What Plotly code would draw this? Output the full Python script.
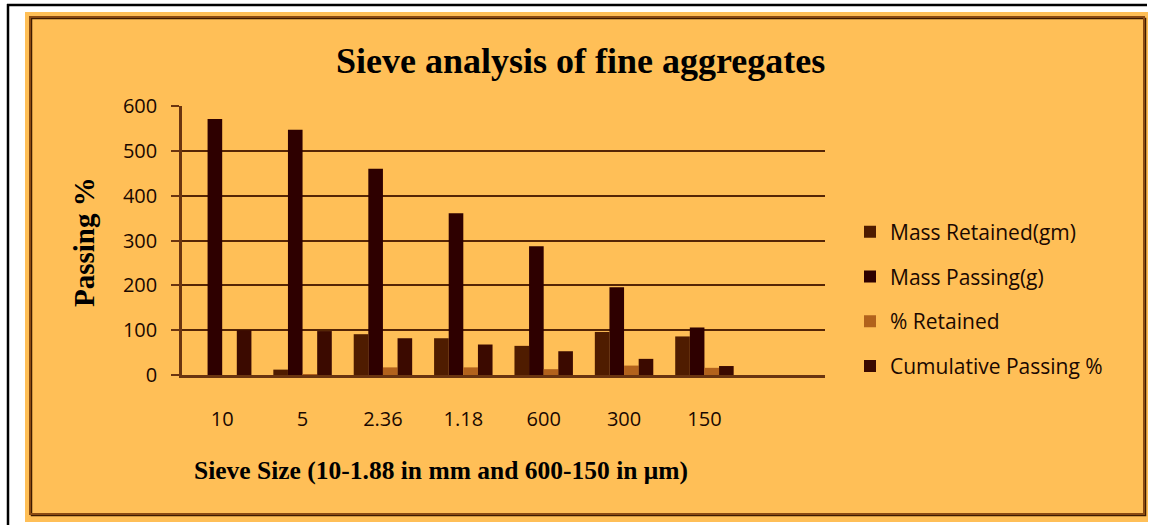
import plotly.graph_objects as go

# Sieve sizes (mm for the first four, micrometres for the rest)
sieve_sizes = ["10", "5", "2.36", "1.18", "600", "300", "150"]

mass_retained = [0, 12, 91, 82, 65, 96, 86]
mass_passing = [571, 547, 460, 361, 287, 196, 106]
pct_retained = [0, 2, 17, 17, 13, 21, 16]
cumulative_passing = [100, 98, 82, 68, 53, 36, 20]

series_names = ["Mass Retained(gm)", "Mass Passing(g)", "% Retained", "Cumulative Passing %"]
series_values = [mass_retained, mass_passing, pct_retained, cumulative_passing]
series_colors = ["#4f1c00", "#2e0000", "#b2621c", "#3b0a00"]

W, H = 1155, 525
L, R, T, B = 182, 330, 106, 150
PW, PH = W - L - R, H - T - B


def px_x(px):
    return (px - L) / PW


def px_y(py):
    return (H - B - py) / PH


fig = go.Figure()
for i, (name, vals, col) in enumerate(zip(series_names, series_values, series_colors)):
    fig.add_trace(go.Bar(
        x=sieve_sizes, y=vals, name=name, legendgroup=f"g{i}",
        marker=dict(color=col, line=dict(width=0)),
    ))

font_sans = "Open Sans"
font_serif = "Liberation Serif"
text_col = "#1a0800"
line_col = "#6a3410"

shapes = [
    # white page frame lines
    dict(type="line", xref="paper", yref="paper", x0=px_x(7), x1=px_x(1147),
         y0=px_y(5), y1=px_y(5), line=dict(color="black", width=2.5), layer="below"),
    dict(type="line", xref="paper", yref="paper", x0=px_x(8), x1=px_x(8),
         y0=px_y(4), y1=px_y(525), line=dict(color="black", width=2.5), layer="below"),
    # orange chart panel
    dict(type="rect", xref="paper", yref="paper", x0=px_x(25), x1=px_x(1148),
         y0=px_y(12), y1=px_y(522), fillcolor="#FFBF57", line=dict(width=0), layer="below"),
    # shadow of the inner frame
    dict(type="rect", xref="paper", yref="paper", x0=px_x(31.5), x1=px_x(1145.5),
         y0=px_y(18.5), y1=px_y(515.5), fillcolor="rgba(0,0,0,0)",
         line=dict(color="#3d1a00", width=1.5), layer="below"),
    # inner frame
    dict(type="rect", xref="paper", yref="paper", x0=px_x(30), x1=px_x(1144),
         y0=px_y(17), y1=px_y(514), fillcolor="rgba(0,0,0,0)",
         line=dict(color="#8a4a12", width=2), layer="below"),
]

annotations = [
    dict(text="<b>Sieve analysis of fine aggregates</b>", xref="paper", yref="paper",
         x=px_x(580), y=px_y(61), showarrow=False, xanchor="center", yanchor="middle",
         font=dict(family=font_serif, size=36, color="black")),
    dict(text="<b>Sieve Size (10-1.88 in mm and 600-150 in \u03bcm)</b>", xref="paper", yref="paper",
         x=px_x(441), y=px_y(470), showarrow=False, xanchor="center", yanchor="middle",
         font=dict(family=font_serif, size=25.5, color="black")),
    dict(text="<b>Passing %</b>", xref="paper", yref="paper",
         x=px_x(84), y=px_y(242), showarrow=False, xanchor="center", yanchor="middle",
         textangle=-90, font=dict(family=font_serif, size=29, color="black")),
]

fig.update_layout(
    width=W, height=H,
    margin=dict(l=L, r=R, t=T, b=B, pad=0),
    paper_bgcolor="white",
    plot_bgcolor="rgba(0,0,0,0)",
    barmode="group",
    bargap=0.2727,
    bargroupgap=0,
    shapes=shapes,
    annotations=annotations,
    showlegend=True,
    legend=dict(
        x=px_x(850), xanchor="left", y=px_y(299), yanchor="middle",
        traceorder="grouped", tracegroupgap=14.5,
        bgcolor="rgba(0,0,0,0)", borderwidth=0,
        font=dict(family=font_sans, size=21, color=text_col),
    ),
    xaxis=dict(
        type="category", range=[-0.5, 7.5], showgrid=False, zeroline=False,
        showline=True, linecolor=line_col, linewidth=2.5, ticks="",
        ticklabelstandoff=24,
        tickfont=dict(family=font_sans, size=20, color=text_col),
    ),
    yaxis=dict(
        range=[0, 600], tickvals=[0, 100, 200, 300, 400, 500, 600],
        showgrid=True, gridcolor="#552505", gridwidth=1.7, zeroline=False,
        showline=True, linecolor=line_col, linewidth=2.5,
        ticks="outside", ticklen=8, tickwidth=2, tickcolor=line_col,
        ticklabelstandoff=10,
        tickfont=dict(family=font_sans, size=20, color=text_col),
    ),
)

fig.write_html("out.html")
